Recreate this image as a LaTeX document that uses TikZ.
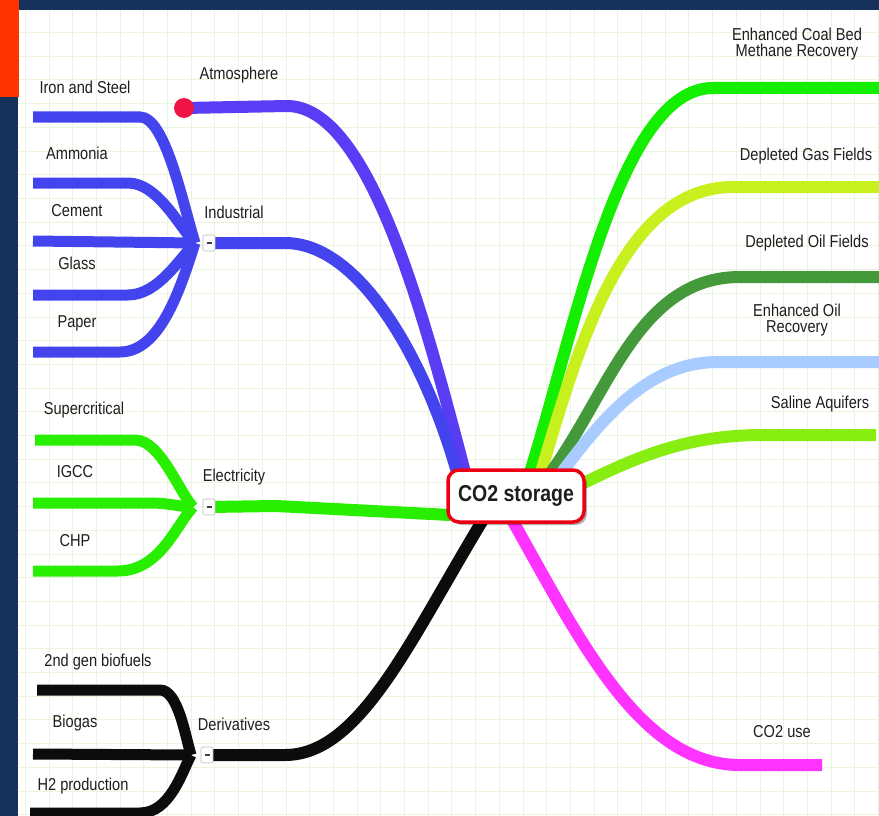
\documentclass[tikz,border=0pt]{standalone}
\usepackage{fontspec}
\setmainfont{Liberation Sans}
\usepackage{graphicx}
\usetikzlibrary{shadows,calc}
\definecolor{navy}{RGB}{20,50,90}
\definecolor{orng}{RGB}{255,51,0}
\definecolor{gridc}{RGB}{234,245,224}
\definecolor{txt}{RGB}{30,30,30}
\definecolor{cred}{RGB}{238,0,20}
\definecolor{cdot}{RGB}{238,20,70}
\definecolor{cAtm}{RGB}{90,60,245}
\definecolor{cInd}{RGB}{68,68,238}
\definecolor{cEle}{RGB}{40,238,0}
\definecolor{cDer}{RGB}{12,12,12}
\definecolor{cEC}{RGB}{20,238,0}
\definecolor{cGas}{RGB}{200,240,30}
\definecolor{cOil}{RGB}{68,153,58}
\definecolor{cEOR}{RGB}{168,204,255}
\definecolor{cSal}{RGB}{136,238,17}
\definecolor{cUse}{RGB}{255,51,255}
\pgfdeclarelayer{gridlayer}
\pgfdeclarelayer{linelayer}
\pgfsetlayers{gridlayer,linelayer,main}
\newcommand\stz[1]{\scalebox{1}[1.18]{#1}}
\begin{document}
\begin{tikzpicture}[x=1pt,y=-1pt,
  lab/.style={font=\fontsize{14.6}{17.5}\selectfont, text=txt, inner sep=0pt, align=center},
  branch/.style={line width=12pt},
  subbr/.style={line width=11pt},
  hubbox/.style={draw=gray!55, fill=white, rounded corners=2pt, minimum width=12pt, minimum height=16pt, inner sep=0pt, line width=0.6pt},
  centre/.style={draw=cred, line width=3.5pt, rounded corners=11pt, fill=white, minimum width=136pt, minimum height=52pt, inner sep=0pt,
    drop shadow={shadow xshift=3pt, shadow yshift=-3pt, opacity=0.3, fill=black}}
]
\useasboundingbox (0,0) rectangle (879,816);
\begin{pgfonlayer}{gridlayer}
\fill[white] (0,0) rectangle (879,816);
\foreach \i in {0,...,37} {\draw[gridc, line width=1pt] (1.6+23.7*\i,0) -- (1.6+23.7*\i,816);}
\foreach \j in {0,...,34} {\draw[gridc, line width=1pt] (0,8.9+23.7*\j) -- (879,8.9+23.7*\j);}
\end{pgfonlayer}

% central node
\node[centre] (c) at (516,496) {\fontsize{19.5}{22}\selectfont\bfseries\color{txt}\stz{CO2 storage}};

% hubs
\node[hubbox] (jInd) at (209,243) {\color{darkgray}\rule[0.5pt]{5pt}{1.8pt}};
\node[hubbox] (jEle) at (209,507) {\color{darkgray}\rule[0.5pt]{5pt}{1.8pt}};
\node[hubbox] (jDer) at (207,755) {\color{darkgray}\rule[0.5pt]{5pt}{1.8pt}};
\coordinate (kInd) at (195,243);
\coordinate (kEle) at (193,507);
\coordinate (kDer) at (191,755);

% atmosphere dot
\node[circle, fill=cdot, minimum size=20pt, inner sep=0pt] (atm) at (184,108) {};

% free ends
\coordinate (eC) at (879,88);
\coordinate (eG) at (879,187);
\coordinate (eO) at (879,277);
\coordinate (eE) at (879,362);
\coordinate (eS) at (876,435);
\coordinate (eU) at (822,765);
\coordinate (sIron) at (33,117);
\coordinate (sAmm) at (33,183);
\coordinate (sCem) at (33,241);
\coordinate (sGla) at (33,295);
\coordinate (sPap) at (33,352);
\coordinate (sSup) at (35,440);
\coordinate (sIGC) at (33,503);
\coordinate (sCHP) at (33,571);
\coordinate (s2nd) at (37,690);
\coordinate (sBio) at (33,754);
\coordinate (sH2) at (30,813);

\begin{pgfonlayer}{linelayer}
% left main branches
\draw[branch, cAtm] (atm.center) -- (287,106) .. controls (370,106) and (425,320) .. ([xshift=-51pt,yshift=-4pt]c.north);
\draw[branch, cInd] (jInd.center) -- (285,243) .. controls (360,243) and (425,360) .. ([xshift=-59pt,yshift=-4pt]c.north);
\draw[branch, cEle] (jEle.center) -- (276,506) -- ([xshift=4pt,yshift=-19pt]c.west);
\draw[branch, cDer] (jDer.center) -- (285,755) .. controls (360,755) and (410,640) .. ([xshift=-33pt,yshift=4pt]c.south);
% right branches
\draw[branch, cEC] ([xshift=14pt,yshift=-4pt]c.north) .. controls (575,330) and (620,88) .. (713,88) -- (eC);
\draw[branch, cGas] ([xshift=25pt,yshift=-4pt]c.north) .. controls (580,340) and (625,187) .. (733,187) -- (eG);
\draw[branch, cOil] ([xshift=35pt,yshift=-4pt]c.north) .. controls (610,390) and (640,277) .. (740,277) -- (eO);
\draw[branch, cEOR] ([xshift=46pt,yshift=-4pt]c.north) .. controls (605,415) and (650,362) .. (718,362) -- (eE);
\draw[branch, cSal] ([xshift=-6pt,yshift=11pt]c.east) .. controls (640,455) and (690,435) .. (763,435) -- (eS);
\draw[branch, cUse] ([xshift=-4pt,yshift=4pt]c.south) .. controls (580,640) and (640,765) .. (740,765) -- (eU);
% industrial subs
\draw[subbr, cInd] (sIron) -- (140,117) .. controls (165,117) and (182,200) .. (kInd);
\draw[subbr, cInd] (sAmm) -- (128,183) .. controls (158,183) and (180,228) .. (kInd);
\draw[subbr, cInd] (sCem) -- (kInd);
\draw[subbr, cInd] (sGla) -- (128,295) .. controls (158,295) and (180,258) .. (kInd);
\draw[subbr, cInd] (sPap) -- (120,352) .. controls (160,352) and (180,290) .. (kInd);
% electricity subs
\draw[subbr, cEle] (sSup) -- (135,440) .. controls (160,440) and (178,490) .. (kEle);
\draw[subbr, cEle] (sIGC) -- (150,503) .. controls (170,503) and (180,507) .. (kEle);
\draw[subbr, cEle] (sCHP) -- (118,571) .. controls (160,571) and (176,525) .. (kEle);
% derivatives subs
\draw[subbr, cDer] (s2nd) -- (160,690) .. controls (178,690) and (185,735) .. (kDer);
\draw[subbr, cDer] (sBio) -- (kDer);
\draw[subbr, cDer] (sH2) -- (140,813) .. controls (170,813) and (182,772) .. (kDer);
\end{pgfonlayer}

% labels
\node[lab] (tAtm) at (239,75) {\stz{Atmosphere}};
\node[lab] (tIron) at (85,87) {\stz{Iron and Steel}};
\node[lab] (tAmm) at (77,153) {\stz{Ammonia}};
\node[lab] (tCem) at (77,211) {\stz{Cement}};
\node[lab] (tGla) at (77,263) {\stz{Glass}};
\node[lab] (tPap) at (77,323) {\stz{Paper}};
\node[lab] (tInd) at (234,212) {\stz{Industrial}};
\node[lab] (tSup) at (84,410) {\stz{Supercritical}};
\node[lab] (tIGC) at (75,472) {\stz{IGCC}};
\node[lab] (tCHP) at (75,541) {\stz{CHP}};
\node[lab] (tEle) at (234,477) {\stz{Electricity}};
\node[lab] (t2nd) at (98,662) {\stz{2nd gen biofuels}};
\node[lab] (tBio) at (75,723) {\stz{Biogas}};
\node[lab] (tH2) at (83,786) {\stz{H2 production}};
\node[lab] (tDer) at (234,724) {\stz{Derivatives}};
\node[lab] (tEC) at (797,44) {\stz{\shortstack{Enhanced Coal Bed\\Methane Recovery}}};
\node[lab] (tGas) at (806,156) {\stz{Depleted Gas Fields}};
\node[lab] (tOil) at (807,243) {\stz{Depleted Oil Fields}};
\node[lab] (tEOR) at (797,320) {\stz{\shortstack{Enhanced Oil\\Recovery}}};
\node[lab] (tSal) at (820,404) {\stz{Saline Aquifers}};
\node[lab] (tUse) at (782,732) {\stz{CO2 use}};

% frame
\fill[navy] (0,0) rectangle (879,10);
\fill[navy] (0,0) rectangle (18,816);
\fill[orng] (0,0) rectangle (19,97);
\end{tikzpicture}
\end{document}
